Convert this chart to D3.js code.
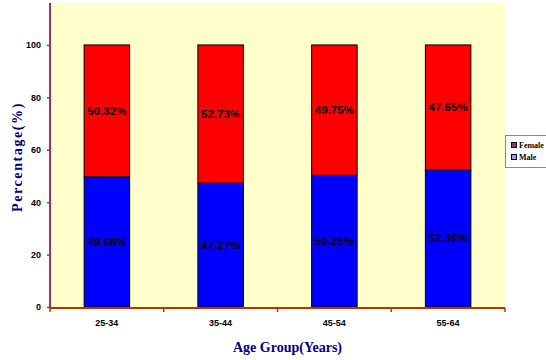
<!DOCTYPE html>
<html><head><meta charset="utf-8">
<script src="https://cdn.jsdelivr.net/npm/d3@7"></script>
<style>body{margin:0;background:#fff}svg{display:block}</style>
</head><body>
<script>
const categories = ["25-34","35-44","45-54","55-64"];
const male = [49.68, 47.27, 50.25, 52.35];
const female = [50.32, 52.73, 49.75, 47.65];
const yTicks = [0,20,40,60,80,100];
const seriesNames = ["Female","Male"];

const W=546,H=360;
const svg=d3.select("body").append("svg").attr("width",W).attr("height",H);
const pL=50,pR=505,pT=3,pB=307;
const x=d3.scaleBand().domain(categories).range([pL,pR]).paddingInner(0.6).paddingOuter(0.3);
const xb=d3.scaleBand().domain(categories).range([pL,pR]);
const y=d3.scaleLinear().domain([0,116]).range([pB,pT]);

svg.append("rect").attr("x",pL).attr("y",pT).attr("width",pR-pL).attr("height",pB-pT).attr("fill","#FFFFCC");

const data=categories.map((c,i)=>({c,m:male[i],f:female[i]}));
const g=svg.append("g");
g.selectAll(".m").data(data).join("rect").attr("x",d=>x(d.c)).attr("width",x.bandwidth())
 .attr("y",d=>y(d.m)).attr("height",d=>y(0)-y(d.m)).attr("fill","#0000FF").attr("stroke","#000").attr("stroke-width",1);
g.selectAll(".f").data(data).join("rect").attr("x",d=>x(d.c)).attr("width",x.bandwidth())
 .attr("y",d=>y(d.m+d.f)).attr("height",d=>y(d.m)-y(d.m+d.f)).attr("fill","#FF0000").attr("stroke","#000").attr("stroke-width",1);

const lab={"font-family":"Liberation Sans, Arial, sans-serif","font-weight":"bold","font-size":"11.5px"};
function st(sel,o){for(const k in o)sel.style(k,o[k]);return sel;}
st(g.selectAll(".lf").data(data).join("text").attr("x",d=>x(d.c)+x.bandwidth()/2).attr("y",d=>y(d.m+d.f/2)+4)
 .attr("text-anchor","middle").text(d=>d.f.toFixed(2)+"%"),lab);
st(g.selectAll(".lm").data(data).join("text").attr("x",d=>x(d.c)+x.bandwidth()/2).attr("y",d=>y(d.m/2)+4)
 .attr("text-anchor","middle").text(d=>d.m.toFixed(2)+"%"),lab);

// y axis
const ya=svg.append("g").attr("transform",`translate(${pL},0)`)
 .call(d3.axisLeft(y).tickValues(yTicks).tickSize(3).tickPadding(6).tickFormat(d3.format("d")));
ya.select(".domain").attr("d",`M0,${pT}V${pB}`).attr("stroke","#993366").attr("stroke-width",2);
ya.selectAll(".tick line").attr("stroke","#993366").attr("stroke-width",1.5);
ya.selectAll(".tick text").attr("fill","#000").style("font-family","Liberation Sans, Arial, sans-serif").style("font-weight","bold").style("font-size","9px");

// x axis
const xa=svg.append("g").attr("transform",`translate(0,${pB+1})`)
 .call(d3.axisBottom(x).tickSize(0).tickPadding(12));
xa.select(".domain").attr("d",`M${pL},0H${pR}`).attr("stroke","#B03A00").attr("stroke-width",2);
xa.selectAll(".tick text").attr("fill","#000").style("font-family","Liberation Sans, Arial, sans-serif").style("font-weight","bold").style("font-size","9px");
const bounds=categories.map(c=>xb(c)).concat([pR]);
xa.selectAll(".bt").data(bounds).join("line").attr("x1",d=>d).attr("x2",d=>d).attr("y1",0).attr("y2",4)
 .attr("stroke","#B03A00").attr("stroke-width",1.5);

const ttl={"font-family":"Liberation Serif, Times New Roman, serif","font-weight":"bold","font-size":"14px","fill":"#000080"};
st(svg.append("text").attr("x",(pL+pR)/2+10).attr("y",352).attr("text-anchor","middle").text("Age Group(Years)"),ttl);
st(svg.append("text").attr("transform",`translate(22,${(pT+pB)/2+2}) rotate(-90)`).attr("text-anchor","middle")
 .style("letter-spacing","1.6px").text("Percentage(%)"),ttl);

// legend
const lg=svg.append("g").attr("transform","translate(505,135)");
lg.append("rect").attr("x",0.5).attr("y",0.5).attr("width",60).attr("height",32).attr("fill","#fff").attr("stroke","#888").attr("stroke-width",1);
const lcol={"Female":"#993366","Male":"#9999FF"};
seriesNames.forEach((n,i)=>{
  lg.append("rect").attr("x",6.5).attr("y",7.5+i*12).attr("width",5).attr("height",5).attr("fill",lcol[n]).attr("stroke","#000").attr("stroke-width",1);
  lg.append("text").attr("x",14).attr("y",13+i*12).text(n).style("font-family","Liberation Serif, Times New Roman, serif").style("font-weight","bold").style("font-size","8px").attr("fill","#000");
});
</script>
</body></html>
